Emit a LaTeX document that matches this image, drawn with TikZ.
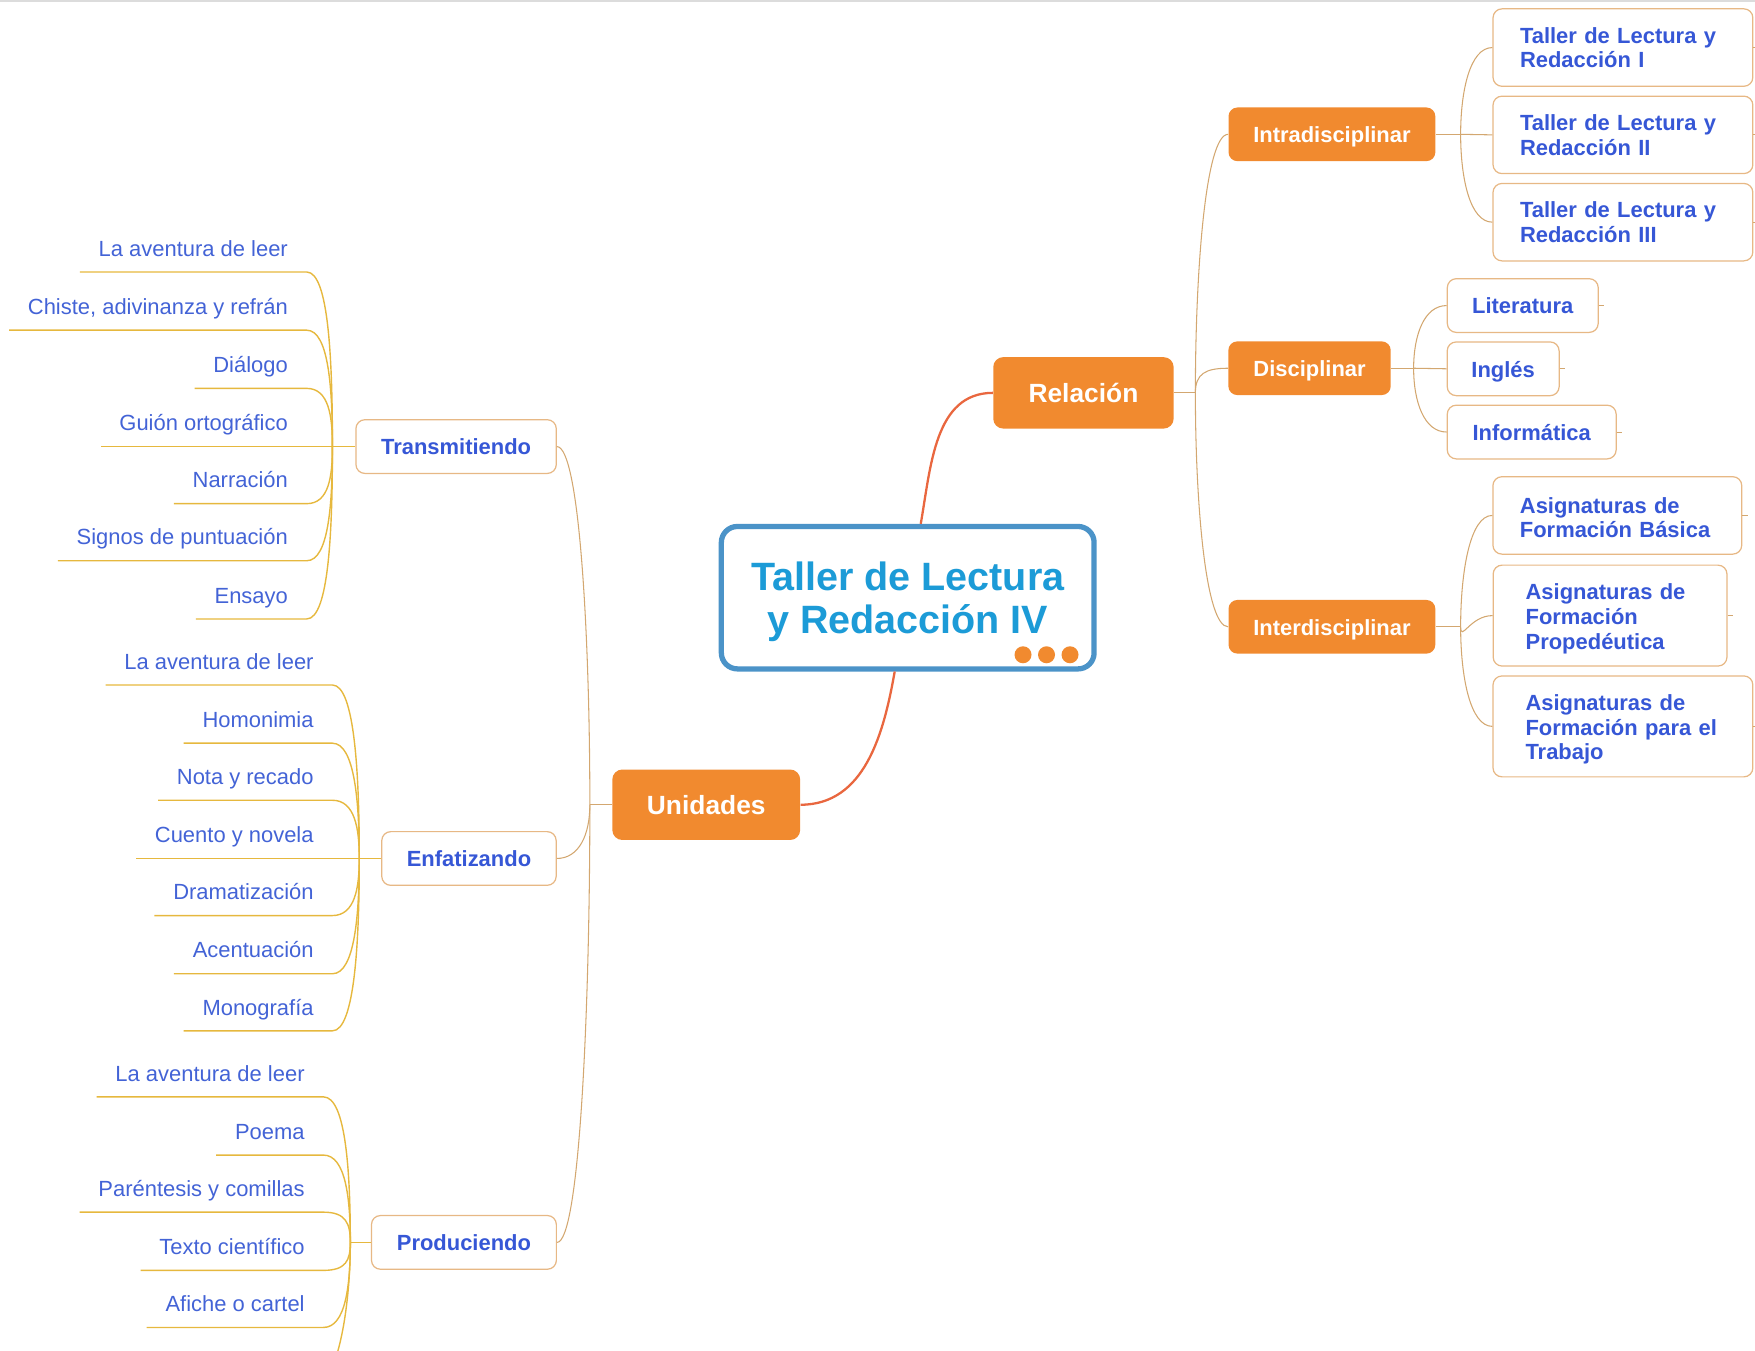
\documentclass[tikz,border=0pt]{standalone}
\usepackage{fontspec}
\setmainfont{Liberation Sans}
\definecolor{naranja}{HTML}{F18A2F}
\definecolor{rojizo}{HTML}{E9673F}
\definecolor{azulborde}{HTML}{4B93C8}
\definecolor{azultitulo}{HTML}{1C9BD7}
\definecolor{azultexto}{HTML}{3657D6}
\definecolor{azulhoja}{HTML}{4363D6}
\definecolor{bordecaja}{HTML}{E7B885}
\definecolor{lineados}{HTML}{D3A770}
\definecolor{lineahoja}{HTML}{E6B83E}
\definecolor{gristope}{HTML}{DCDCDC}
\tikzset{
  raiz/.style={draw=azulborde, line width=3pt, rounded corners=0.32cm, fill=white,
    minimum width=7.46cm, minimum height=2.85cm, align=center, text=azultitulo,
    font=\fontsize{22.5}{24.5}\selectfont\bfseries},
  ramauno/.style={fill=naranja, rounded corners=0.2cm, text=white,
    font=\fontsize{15}{17}\selectfont\bfseries},
  ramados/.style={fill=naranja, rounded corners=0.18cm, text=white, minimum height=1.075cm,
    text height=0.33cm, text depth=0cm, font=\fontsize{12.5}{14}\selectfont\bfseries},
  caja/.style={draw=bordecaja, line width=0.7pt, fill=white, rounded corners=0.18cm,
    text=azultexto, minimum height=1.075cm, font=\fontsize{12.5}{14}\selectfont\bfseries},
  cajacorta/.style={caja, text height=0.33cm, text depth=0cm},
  cajalarga/.style={caja, align=left, inner xsep=#1},
  hoja/.style={anchor=south east, text=azulhoja, font=\fontsize{12.5}{14}\selectfont,
    inner xsep=0.37cm, inner ysep=0pt, text height=0.32cm, text depth=0cm, minimum height=0.94cm},
  punto/.style={circle, fill=naranja, inner sep=0pt, minimum size=0.34cm},
  rama/.style={out looseness=1.2, in distance=0.45cm}
}
\begin{document}
\begin{tikzpicture}[x=0.0224cm, y=-0.0224cm]
  \useasboundingbox (0,0) rectangle (1568,1207);
  \fill[gristope] (0,0) rectangle (1568,2);

  \node[raiz] (centro) at (811,534) {\rule{0pt}{0.75cm}Taller de Lectura\\y Redacción IV};
  \node[punto] (p1) at (914,585) {};
  \node[punto] (p2) at (935,585) {};
  \node[punto] (p3) at (956,585) {};

  \node[ramauno, minimum width=3.61cm, minimum height=1.43cm] (rel) at (968,351) {Relación};
  \node[ramauno, minimum width=3.76cm, minimum height=1.41cm] (uni) at (631,719) {Unidades};

  \node[ramados, minimum width=4.14cm] (intra) at (1190,120) {Intradisciplinar};
  \node[ramados, minimum width=3.25cm] (disc) at (1170,329) {Disciplinar};
  \node[ramados, minimum width=4.14cm] (inter) at (1190,560) {Interdisciplinar};

  \node[cajalarga=0.54cm, text width=4.12cm, minimum height=1.55cm] (t1) at (1450,42.5) {Taller de Lectura y\\Redacción I};
  \node[cajalarga=0.54cm, text width=4.12cm, minimum height=1.55cm] (t2) at (1450,120.5) {Taller de Lectura y\\Redacción II};
  \node[cajalarga=0.54cm, text width=4.12cm, minimum height=1.55cm] (t3) at (1450,198.5) {Taller de Lectura y\\Redacción III};

  \node[cajacorta, minimum width=3.02cm] (lit) at (1360.5,273) {Literatura};
  \node[cajacorta, minimum width=2.24cm] (ingl) at (1343,329.5) {Inglés};
  \node[cajacorta, minimum width=3.38cm] (info) at (1368.5,386) {Informática};

  \node[cajalarga=0.54cm, text width=3.9cm, minimum height=1.55cm] (basica) at (1445,460.5) {\rule{0pt}{0.4cm}Asignaturas de\\Formación Básica};
  \node[cajalarga=0.65cm, text width=3.38cm, minimum height=2.02cm] (prope) at (1438.5,550) {\rule{0pt}{0.45cm}Asignaturas de\\Formación\\Propedéutica};
  \node[cajalarga=0.65cm, text width=3.9cm, minimum height=2.02cm] (trabajo) at (1450,649) {\rule{0pt}{0.45cm}Asignaturas de\\Formación para el\\Trabajo};

  \node[cajacorta, minimum width=4.01cm] (trans) at (407.5,399) {Transmitiendo};
  \node[cajacorta, minimum width=3.49cm] (enf) at (419,767) {Enfatizando};
  \node[cajacorta, minimum width=3.70cm] (prod) at (414.5,1110) {Produciendo};

  \node[hoja] (tr1) at (274,243) {La aventura de leer};
  \node[hoja] (tr2) at (274,295) {Chiste, adivinanza y refrán};
  \node[hoja] (tr3) at (274,347) {Diálogo};
  \node[hoja] (tr4) at (274,399) {Guión ortográfico};
  \node[hoja] (tr5) at (274,450) {Narración};
  \node[hoja] (tr6) at (274,501) {Signos de puntuación};
  \node[hoja] (tr7) at (274,553) {Ensayo};

  \node[hoja] (en1) at (297,612) {La aventura de leer};
  \node[hoja] (en2) at (297,664) {Homonimia};
  \node[hoja] (en3) at (297,715) {Nota y recado};
  \node[hoja] (en4) at (297,767) {Cuento y novela};
  \node[hoja] (en5) at (297,818) {Dramatización};
  \node[hoja] (en6) at (297,870) {Acentuación};
  \node[hoja] (en7) at (297,921) {Monografía};

  \node[hoja] (pr1) at (289,980) {La aventura de leer};
  \node[hoja] (pr2) at (289,1032) {Poema};
  \node[hoja] (pr3) at (289,1083) {Paréntesis y comillas};
  \node[hoja] (pr4) at (289,1135) {Texto científico};
  \node[hoja] (pr5) at (289,1186) {Afiche o cartel};

  \coordinate (relF) at (1068,351);
  \coordinate (uniF) at (527,719);
  \coordinate (intraF) at (1305,120);
  \coordinate (discF) at (1263,329);
  \coordinate (interF) at (1305,560);
  \coordinate (trF) at (297,399);
  \coordinate (enF) at (321,767);
  \coordinate (prF) at (313,1110);
  \coordinate (prCorte) at (280,1240);

  \begin{scope}[draw=rojizo, line width=1.3pt]
    \draw (centro.80) to[out=80, in=180] (rel.west);
    \draw (centro.260) to[out=260, in=0] (uni.east);
  \end{scope}

  \begin{scope}[draw=lineados, line width=0.6pt]
    \draw (rel.east) -- (relF);
    \draw (relF) to[rama, out=90, in=180] (intra.west);
    \draw (relF) to[rama, out=90, in=180] (disc.west);
    \draw (relF) to[rama, out=-90, in=180] (inter.west);
    \draw (intra.east) -- (intraF);
    \draw (intraF) to[rama, out=90, in=180] (t1.west);
    \draw (intraF) -- (t2.west);
    \draw (intraF) to[rama, out=-90, in=180] (t3.west);
    \draw (disc.east) -- (discF);
    \draw (discF) to[rama, out=90, in=180] (lit.west);
    \draw (discF) -- (ingl.west);
    \draw (discF) to[rama, out=-90, in=180] (info.west);
    \draw (inter.east) -- (interF);
    \draw (interF) to[rama, out=90, in=180] (basica.west);
    \draw (interF) to[rama, out=-90, in=180] (prope.west);
    \draw (interF) to[rama, out=-90, in=180] (trabajo.west);
    \foreach \n in {t1,t2,t3,lit,ingl,info,basica,prope,trabajo}
      \draw (\n.east) -- ++(5,0);
    \draw (uni.west) -- (uniF);
    \draw (uniF) to[rama, out=90, in=0] (trans.east);
    \draw (uniF) to[rama, out=-90, in=0] (enf.east);
    \draw (uniF) to[rama, out=-90, in=0] (prod.east);
  \end{scope}

  \begin{scope}[draw=lineahoja, line width=0.8pt]
    \draw (trans.west) -- (trF);
    \draw (trF) to[rama, out=90, in=0] (tr1.south east) -- (tr1.south west);
    \draw (trF) to[rama, out=90, in=0] (tr2.south east) -- (tr2.south west);
    \draw (trF) to[rama, out=90, in=0] (tr3.south east) -- (tr3.south west);
    \draw (trF) -- (tr4.south east) -- (tr4.south west);
    \draw (trF) to[rama, out=-90, in=0] (tr5.south east) -- (tr5.south west);
    \draw (trF) to[rama, out=-90, in=0] (tr6.south east) -- (tr6.south west);
    \draw (trF) to[rama, out=-90, in=0] (tr7.south east) -- (tr7.south west);
    \draw (enf.west) -- (enF);
    \draw (enF) to[rama, out=90, in=0] (en1.south east) -- (en1.south west);
    \draw (enF) to[rama, out=90, in=0] (en2.south east) -- (en2.south west);
    \draw (enF) to[rama, out=90, in=0] (en3.south east) -- (en3.south west);
    \draw (enF) -- (en4.south east) -- (en4.south west);
    \draw (enF) to[rama, out=-90, in=0] (en5.south east) -- (en5.south west);
    \draw (enF) to[rama, out=-90, in=0] (en6.south east) -- (en6.south west);
    \draw (enF) to[rama, out=-90, in=0] (en7.south east) -- (en7.south west);
    \draw (prod.west) -- (prF);
    \draw (prF) to[rama, out=90, in=0] (pr1.south east) -- (pr1.south west);
    \draw (prF) to[rama, out=90, in=0] (pr2.south east) -- (pr2.south west);
    \draw (prF) to[rama, out=90, in=0] (pr3.south east) -- (pr3.south west);
    \draw (prF) to[rama, out=-90, in=0] (pr4.south east) -- (pr4.south west);
    \draw (prF) to[rama, out=-90, in=0] (pr5.south east) -- (pr5.south west);
    \draw (prF) to[rama, out=-90, in=0] (prCorte);
  \end{scope}
\end{tikzpicture}
\end{document}
